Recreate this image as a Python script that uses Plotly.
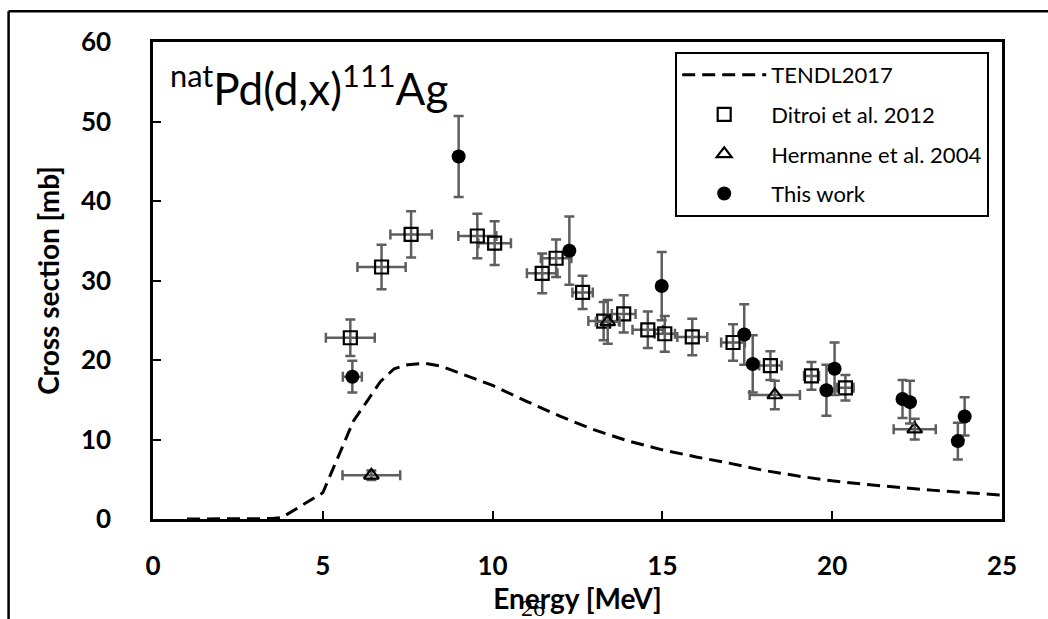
import plotly.graph_objects as go

# TENDL2017 model curve
tendl_e = [1.0, 1.5, 2.0, 2.5, 3.0, 3.5, 3.8, 4.0, 4.3, 4.6, 5.0, 5.3, 5.6, 5.9, 6.3, 6.7, 7.1, 7.5,
           8.0, 8.5, 9.0, 9.5, 10, 11, 12, 13, 14, 15, 16, 17, 18, 19, 20, 21, 22, 23, 24, 25]
tendl_xs = [0, 0, 0, 0, 0, 0.05, 0.2, 0.7, 1.5, 2.3, 3.3, 6.3, 9.3, 12.3, 14.8, 17.3, 18.9, 19.4,
            19.6, 19.2, 18.4, 17.6, 16.8, 14.8, 12.9, 11.2, 9.8, 8.7, 7.8, 7.0, 6.1, 5.4, 4.8, 4.35,
            3.95, 3.6, 3.3, 3.0]

# Ditroi et al. 2012
ditroi_e = [5.81, 6.73, 7.60, 9.55, 10.06, 11.46, 11.87, 12.65, 13.27, 13.86, 14.57, 15.07, 15.88,
            17.08, 18.18, 19.39, 20.39]
ditroi_de = [0.72, 0.71, 0.61, 0.56, 0.48, 0.45, 0.45, 0.30, 0.45, 0.35, 0.45, 0.30, 0.44,
             0.35, 0.33, 0.22, 0.24]
ditroi_xs = [22.8, 31.7, 35.8, 35.6, 34.7, 30.9, 32.8, 28.5, 24.9, 25.8, 23.8, 23.3, 22.9,
             22.2, 19.3, 18.0, 16.5]
ditroi_dxs = [2.3, 2.8, 2.9, 2.8, 2.75, 2.5, 2.35, 2.1, 2.4, 2.35, 2.3, 2.25, 2.3,
              2.3, 1.8, 1.75, 1.6]

# Hermanne et al. 2004
herm_e = [6.43, 13.39, 18.31, 22.43]
herm_de = [0.85, 0.35, 0.74, 0.62]
herm_xs = [5.5, 24.8, 15.6, 11.3]
herm_dxs = [0.6, 2.75, 1.8, 1.3]

# This work
tw_e = [5.87, 9.00, 12.26, 14.98, 17.41, 17.66, 19.83, 20.07, 22.07, 22.29, 23.70, 23.90]
tw_de = [0.28, 0.12, 0.12, 0.12, 0.12, 0.12, 0.12, 0.12, 0.12, 0.12, 0.12, 0.12]
tw_xs = [17.9, 45.6, 33.75, 29.3, 23.2, 19.5, 16.2, 18.9, 15.1, 14.7, 9.8, 12.9]
tw_dxs = [2.0, 5.1, 4.3, 4.3, 3.8, 3.6, 3.2, 3.3, 2.4, 2.7, 2.3, 2.4]

x_ticks = [0, 5, 10, 15, 20, 25]
y_ticks = [0, 10, 20, 30, 40, 50, 60]

FONT = "Lato"
ERRC = "#5e5e5e"

fig = go.Figure()

fig.add_trace(go.Scatter(
    x=tendl_e, y=tendl_xs, mode="lines", name="TENDL2017",
    line=dict(color="black", width=3, dash="13px,7px"), legendgroup="a"))

fig.add_trace(go.Scatter(
    x=ditroi_e, y=ditroi_xs, mode="markers", name="Ditroi et al. 2012", legendgroup="b",
    marker=dict(symbol="square-open", size=13, color="black", line=dict(width=2.2, color="black")),
    error_x=dict(type="data", array=ditroi_de, color=ERRC, thickness=2.5, width=5),
    error_y=dict(type="data", array=ditroi_dxs, color=ERRC, thickness=2.5, width=5)))

fig.add_trace(go.Scatter(
    x=herm_e, y=herm_xs, mode="markers", name="Hermanne et al. 2004", legendgroup="c",
    marker=dict(symbol="triangle-up-open", size=13, color="black", line=dict(width=2.2, color="black")),
    error_x=dict(type="data", array=herm_de, color=ERRC, thickness=2.5, width=5),
    error_y=dict(type="data", array=herm_dxs, color=ERRC, thickness=2.5, width=5)))

fig.add_trace(go.Scatter(
    x=tw_e, y=tw_xs, mode="markers", name="This work", legendgroup="d",
    marker=dict(symbol="circle", size=14, color="black"),
    error_x=dict(type="data", array=tw_de, color=ERRC, thickness=2.5, width=5),
    error_y=dict(type="data", array=tw_dxs, color=ERRC, thickness=2.5, width=5)))

L, R, T, B = 152.5, 46, 42, 96
W, H = 1048, 619
pw, ph = W - L - R, H - T - B


def px(xp):
    return (xp - L) / pw


def py(yp):
    return (H - B - yp) / ph


fig.update_layout(
    width=W, height=H,
    margin=dict(l=L, r=R, t=T, b=B, pad=0),
    paper_bgcolor="white", plot_bgcolor="white",
    font=dict(family=FONT, color="black"),
    showlegend=True,
    legend=dict(x=px(675), y=py(52), xanchor="left", yanchor="top",
                bordercolor="black", borderwidth=2, bgcolor="white",
                font=dict(family=FONT, size=22, color="black"),
                traceorder="grouped", tracegroupgap=8, itemwidth=84),
    xaxis=dict(range=[0, 25], tickvals=x_ticks, ticks="inside", ticklen=8, tickwidth=2,
               tickcolor="black", showline=True, linewidth=2.5, linecolor="black", mirror=True,
               showgrid=False, zeroline=False, ticklabelstandoff=22,
               tickfont=dict(family=FONT, size=26, weight="bold", color="black"),
               title=dict(text="Energy [MeV]", standoff=6,
                          font=dict(family=FONT, size=28, weight="bold", color="black"))),
    yaxis=dict(range=[0, 60], tickvals=y_ticks, ticks="inside", ticklen=8, tickwidth=2,
               tickcolor="black", showline=True, linewidth=2.5, linecolor="black", mirror=True,
               showgrid=False, zeroline=False, ticklabelstandoff=34,
               tickfont=dict(family=FONT, size=26, weight="bold", color="black"),
               title=dict(text="Cross section [mb]", standoff=14,
                          font=dict(family=FONT, size=28, weight="bold", color="black"))),
    annotations=[
        dict(text="<sup>nat</sup>Pd(d,x)<sup>111</sup>Ag", xref="paper", yref="paper",
             x=px(168), y=py(86), xanchor="left", yanchor="middle", showarrow=False,
             font=dict(family=FONT, size=44, color="black")),
        dict(text="26", xref="paper", yref="paper", x=px(533), y=py(613),
             xanchor="center", yanchor="middle", showarrow=False,
             font=dict(family="Liberation Serif", size=24, color="black")),
    ],
    shapes=[
        dict(type="line", xref="paper", yref="paper", x0=px(8), y0=py(11), x1=px(1060), y1=py(11),
             line=dict(color="black", width=2.5)),
        dict(type="line", xref="paper", yref="paper", x0=px(8), y0=py(11), x1=px(8), y1=py(640),
             line=dict(color="black", width=2.5)),
    ],
)

fig.write_html("out.html")
